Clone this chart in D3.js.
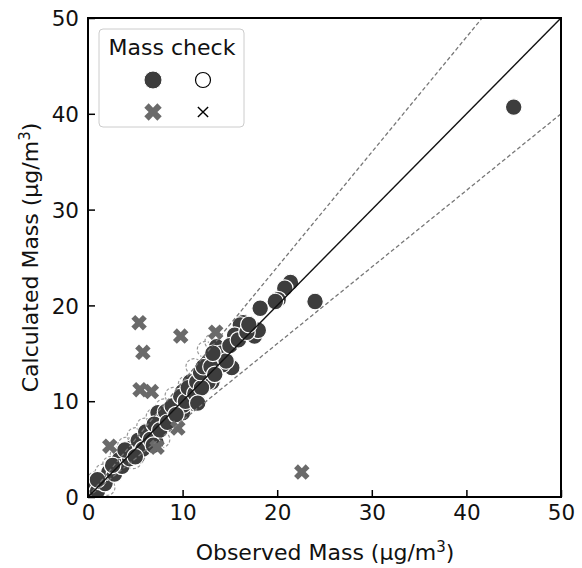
<!DOCTYPE html>
<html><head><meta charset="utf-8">
<script src="https://cdn.jsdelivr.net/npm/d3@7"></script>
<style>body{margin:0;background:#fff}svg{display:block}text{font-family:"DejaVu Sans",sans-serif}</style>
</head><body><svg id="c" width="582" height="568"></svg>
<script>
const ticks = [0,10,20,30,40,50];
// Mass check passed (filled circles)
const passObs  = [45.0,24.0,21.4,20.8,20.1,19.8,18.2,17.6,16.4,17.3,16.1,15.5,13.6,15.2,13.6,14.2,12.7,12.6,13.1,11.8,12.7,10.8,10.0,11.8,10.8,9.7,11.1,10.0,8.7,7.4,10.1,9.1,8.0,7.2,6.7,5.9,7.2,6.4,5.6,4.9,4.1,3.8,3.1,2.5,2.0,1.5,0.9,0.6,0.3,5.2,18.0,
  0.5,1.0,1.3,1.8,2.2,2.8,3.3,3.6,4.4,4.6,5.3,5.8,6.1,6.6,7.0,7.6,8.2,8.4,8.9,9.3,9.8,10.3,10.6,11.3,11.5,12.0,11.9,12.2,13.0,13.4,14.0,14.6,13.2,15.0,15.9,16.8,17.0,3.9,5.0,6.9,11.6,1.0,2.6];
const passCalc = [40.7,20.4,22.4,21.8,20.6,20.4,19.7,16.8,18.2,17.7,17.95,16.9,15.7,13.5,14.6,13.8,14.1,13.0,12.0,12.2,12.0,12.0,11.0,11.2,10.4,9.8,9.8,8.8,9.1,8.8,9.6,8.8,8.2,7.3,6.8,6.3,5.7,5.4,5.6,4.9,4.6,3.9,3.3,2.8,2.3,1.8,1.25,0.7,0.4,4.2,17.4,
  0.9,0.6,1.6,1.4,2.6,2.4,3.9,3.2,4.0,5.1,5.9,5.0,6.8,6.0,7.6,7.0,8.9,7.8,9.5,8.6,10.5,10.0,11.4,10.8,12.0,11.4,13.0,13.6,13.6,12.8,15.0,14.2,15.0,15.8,16.4,17.2,18.0,4.9,4.2,5.4,9.8,1.8,3.3];
// Mass check (open circles, mostly hidden)
const openObs  = [0.8,1.6,2.4,3.2,4.0,5.0,6.0,7.0,8.0,9.0,10.4,11.2,12.4,13.2,7.8,4.8,2.0];
const openCalc = [1.8,2.6,3.4,4.4,5.4,6.4,7.4,8.4,9.4,10.6,11.8,13.6,15.4,16.2,6.0,3.8,1.0];
// Mass check failed (thick X)
const failObs  = [5.4,5.8,5.5,6.7,9.8,13.5,2.3,22.6,9.5,7.3];
const failCalc = [18.2,15.1,11.2,11.0,16.8,17.2,5.3,2.6,7.2,5.2];
const ratioLines = [1.2, 0.8];

const svg = d3.select("#c");
const L=88,R=561,T=18,B=497;
const x = d3.scaleLinear().domain([0,50]).range([L,R]);
const y = d3.scaleLinear().domain([0,50]).range([B,T]);

svg.append("defs").append("clipPath").attr("id","clip").append("rect")
  .attr("x",L).attr("y",T).attr("width",R-L).attr("height",B-T);
const g = svg.append("g").attr("clip-path","url(#clip)");

// open circles
g.selectAll(".open").data(openObs).enter().append("circle")
  .attr("cx",(d)=>x(d)).attr("cy",(d,i)=>y(openCalc[i])).attr("r",8)
  .attr("fill","none").attr("stroke","#999").attr("stroke-width",1.2).attr("stroke-dasharray","3,2");

// filled circles
g.selectAll(".pass").data(passObs).enter().append("circle")
  .attr("cx",(d)=>x(d)).attr("cy",(d,i)=>y(passCalc[i])).attr("r",8.3)
  .attr("fill","#3d3d3d").attr("stroke","#fff").attr("stroke-width",1.2);

// failed X
const xsym = d3.symbol().type(d3.symbolCross).size(150);
g.selectAll(".fail").data(failObs).enter().append("path")
  .attr("d",xsym)
  .attr("transform",(d,i)=>`translate(${x(d)},${y(failCalc[i])}) rotate(45)`)
  .attr("fill","#6a6a6a");

// reference lines
ratioLines.forEach(k=>{
  g.append("line").attr("x1",x(0)).attr("y1",y(0)).attr("x2",x(50)).attr("y2",y(50*k))
   .attr("stroke","#777").attr("stroke-width",1.3).attr("stroke-dasharray","4,2.5");
});
g.append("line").attr("x1",x(0)).attr("y1",y(0)).attr("x2",x(50)).attr("y2",y(50))
  .attr("stroke","#111").attr("stroke-width",1.4);

// axes
const xa = svg.append("g").attr("transform",`translate(0,${B})`)
  .call(d3.axisBottom(x).tickValues(ticks).tickSizeInner(-7).tickSizeOuter(0).tickPadding(8));
const ya = svg.append("g").attr("transform",`translate(${L},0)`)
  .call(d3.axisLeft(y).tickValues(ticks).tickSizeInner(-7).tickSizeOuter(0).tickPadding(9));
[xa,ya].forEach(a=>{
  a.select(".domain").remove();
  a.selectAll(".tick line").attr("stroke","#000").attr("stroke-width",1.5);
  a.selectAll(".tick text").attr("font-size",21.5).attr("fill","#111").style("font-family","DejaVu Sans");
});
ya.selectAll(".tick text").attr("dy","0.36em");

// frame
svg.append("rect").attr("x",L).attr("y",T).attr("width",R-L).attr("height",B-T)
  .attr("fill","none").attr("stroke","#000").attr("stroke-width",2);

// axis labels
const xl = svg.append("text").attr("x",325).attr("y",560).attr("text-anchor","middle")
  .attr("font-size",22).attr("fill","#111");
xl.append("tspan").text("Observed Mass (μg/m");
xl.append("tspan").attr("dy",-8).attr("font-size",15).text("3");
xl.append("tspan").attr("dy",8).text(")");
const yl = svg.append("text").attr("transform",`translate(38,${(T+B)/2}) rotate(-90)`)
  .attr("text-anchor","middle").attr("font-size",22).attr("fill","#111");
yl.append("tspan").text("Calculated Mass (μg/m");
yl.append("tspan").attr("dy",-8).attr("font-size",15).text("3");
yl.append("tspan").attr("dy",8).text(")");

// legend
const lg = svg.append("g");
lg.append("rect").attr("x",99).attr("y",29).attr("width",145).attr("height",98).attr("rx",4)
  .attr("fill","#fff").attr("fill-opacity",0.85).attr("stroke","#ccc").attr("stroke-width",1);
lg.append("text").attr("x",172).attr("y",55).attr("text-anchor","middle").attr("font-size",22)
  .attr("fill","#111").text("Mass check");
lg.append("circle").attr("cx",153).attr("cy",80).attr("r",9).attr("fill","#3d3d3d").attr("stroke","#fff");
lg.append("circle").attr("cx",203).attr("cy",80).attr("r",7.5).attr("fill","#fff").attr("stroke","#000").attr("stroke-width",1.2);
lg.append("path").attr("d",d3.symbol().type(d3.symbolCross).size(190))
  .attr("transform","translate(153,112) rotate(45)").attr("fill","#6a6a6a");
lg.append("path").attr("d",d3.symbol().type(d3.symbolX).size(70))
  .attr("transform","translate(203,112)").attr("fill","none").attr("stroke","#000").attr("stroke-width",1.4);
</script></body></html>
